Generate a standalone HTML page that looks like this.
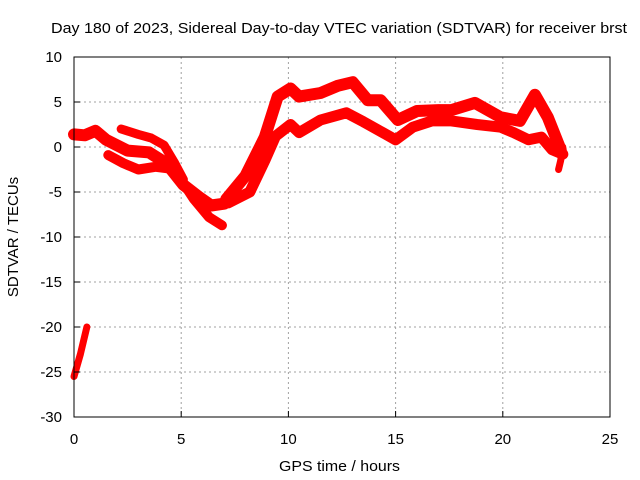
<!DOCTYPE html>
<html><head><meta charset="utf-8"><style>
body{margin:0;background:#fff}
svg{display:block;font-family:"Liberation Sans",sans-serif}
</style></head><body>
<svg id="chart" width="640" height="480" xmlns="http://www.w3.org/2000/svg">
<rect width="640" height="480" fill="#fff"/>
<text x="51" y="33" font-size="15" textLength="576" lengthAdjust="spacingAndGlyphs">Day 180 of 2023, Sidereal Day-to-day VTEC variation (SDTVAR) for receiver brst</text>
<g id="grid"></g>
<g id="series"></g>
<g id="axes"></g>
<text x="279" y="471" font-size="15" textLength="121" lengthAdjust="spacingAndGlyphs">GPS time / hours</text>
<text transform="translate(18,237) rotate(-90)" font-size="15" text-anchor="middle">SDTVAR / TECUs</text>
</svg>
<script>
const xTicks=[0,5,10,15,20,25];
const yTicks=[10,5,0,-5,-10,-15,-20,-25,-30];
const traceEarly=[[0,-25.5],[0.3,-23],[0.6,-20]];
const traceA=[[0,1.4],[0.5,1.3],[1,1.8],[1.5,0.8],[2.5,-0.4],[3.5,-0.6],[4.3,-1.8],[5.1,-4.2],[5.8,-5.5],[6.4,-6.5],[7,-6.3]];
const traceB=[[2.2,2],[3,1.4],[3.6,1.0],[4.2,0.2],[4.7,-1.8],[5.1,-3.6]];
const traceC=[[1.6,-0.9],[2.3,-1.8],[3,-2.5],[3.8,-2.2],[4.5,-2.4],[5.1,-4],[5.6,-5.8],[6.3,-7.8],[6.9,-8.7]];
const traceD=[[7.1,-5.8],[8,-3.2],[8.9,1.1],[9.5,5.6],[10.1,6.5],[10.5,5.6],[11.5,6],[12.3,6.8],[13,7.2],[13.7,5.2],[14.3,5.2],[15.1,3],[16,4.0],[17,4.1],[17.6,4.1],[18.7,4.9],[19.9,3.3],[20.8,2.9],[21.5,5.8],[22.1,3.3],[22.7,-0.3]];
const traceE=[[7.2,-6.2],[8.2,-5],[8.9,-1.5],[9.4,1.2],[10.1,2.5],[10.5,1.6],[11.5,3],[12.7,3.8],[13.5,2.8],[14.4,1.6],[15,0.8],[15.8,2.2],[16.7,2.9],[17.6,2.9],[18.8,2.5],[19.9,2.2],[20.5,1.6],[21.2,0.8],[21.8,1.1],[22.3,-0.3],[22.8,-0.8]];
const traceF=[[22.8,0],[22.7,-1.5],[22.6,-2.5]];
const X0=74,X1=610,Y0=57,Y1=417;
const xs=v=>X0+(v-0)/25*(X1-X0);
const ys=v=>Y0+(10-v)/40*(Y1-Y0);
const NS="http://www.w3.org/2000/svg";
function mk(t,a,p){const e=document.createElementNS(NS,t);for(const k in a)e.setAttribute(k,a[k]);p.appendChild(e);return e;}
const grid=document.getElementById('grid'),axes=document.getElementById('axes'),ser=document.getElementById('series');
xTicks.forEach(t=>{
  if(t>0&&t<25){const g=mk('line',{x1:xs(t),x2:xs(t),y1:Y0,y2:Y1,stroke:'#a0a0a0','stroke-dasharray':'2,3'},grid);
  
  }
  const l=mk('text',{x:xs(t),y:Y1+27,'font-size':15,'text-anchor':'middle'},axes);l.textContent=t;
  
  
  mk('line',{x1:xs(t),x2:xs(t),y1:Y1,y2:Y1-6,stroke:'#000'},axes);
});
yTicks.forEach(t=>{
  if(t<10&&t>-30){const g=mk('line',{x1:X0,x2:X1,y1:ys(t),y2:ys(t),stroke:'#a0a0a0','stroke-dasharray':'2,3'},grid);
  
  }
  const l=mk('text',{x:X0-12,y:ys(t)+5,'font-size':15,'text-anchor':'end'},axes);l.textContent=t;
  
  
  mk('line',{x1:X0,x2:X0+6,y1:ys(t),y2:ys(t),stroke:'#000'},axes);
});
const frame=mk('rect',{x:X0,y:Y0,width:X1-X0,height:Y1-Y0,fill:'none',stroke:'#000'},axes);


[[traceEarly,7],[traceA,12],[traceB,9],[traceC,10],[traceD,12],[traceE,11],[traceF,7]].forEach(([tr,w])=>{
  const p=mk('polyline',{points:tr.map(d=>xs(d[0])+','+ys(d[1])).join(' '),fill:'none',stroke:'#ff0000','stroke-width':w,'stroke-linejoin':'round','stroke-linecap':'round'},ser);
  
  
});
</script>
</body></html>
